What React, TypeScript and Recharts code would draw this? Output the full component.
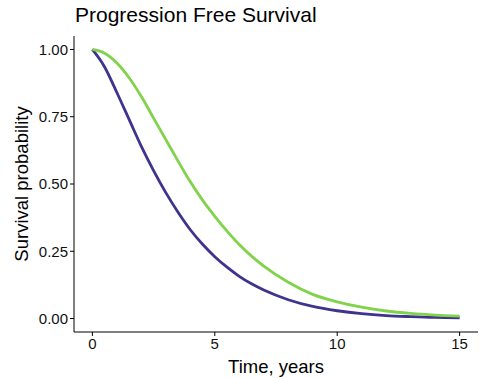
import React from 'react';
import { LineChart, Line, XAxis, YAxis } from 'recharts';

const times = [0, 0.5, 1, 1.5, 2, 2.5, 3, 3.5, 4, 4.5, 5, 5.5, 6, 6.5, 7, 8, 9, 10, 11, 12, 13, 14, 15];
const purpleSurv = [1.0, 0.935, 0.84, 0.74, 0.64, 0.55, 0.468, 0.395, 0.33, 0.276, 0.23, 0.191, 0.157, 0.129, 0.106, 0.07, 0.045, 0.029, 0.018, 0.011, 0.007, 0.004, 0.003];
const greenSurv = [1.0, 0.986, 0.95, 0.895, 0.825, 0.745, 0.665, 0.585, 0.508, 0.44, 0.38, 0.325, 0.275, 0.232, 0.195, 0.135, 0.09, 0.062, 0.042, 0.028, 0.019, 0.013, 0.009];
const xTicks = [0, 5, 10, 15];
const yTicks = [0, 0.25, 0.5, 0.75, 1];

const data = times.map((t, i) => ({ t, purple: purpleSurv[i], green: greenSurv[i] }));

const FONT = '"Liberation Sans", Arial, Helvetica, sans-serif';

const renderYLabel = (props: any) => {
  const vb = props.viewBox || { x: 0, y: 36, width: 74, height: 296 };
  const cx = vb.x + 21;
  const cy = vb.y + vb.height / 2;
  return (
    <text x={cx} y={cy} transform={`rotate(-90 ${cx} ${cy})`} textAnchor="middle" dominantBaseline="central" fontSize={18.5} fill="#000" fontFamily={FONT}>
      Survival probability
    </text>
  );
};

const renderXLabel = (props: any) => {
  const vb = props.viewBox || { x: 74, y: 332, width: 404, height: 46 };
  const cx = vb.x + vb.width / 2;
  return (
    <text x={cx} y={366} textAnchor="middle" dominantBaseline="central" fontSize={18.5} fill="#000" fontFamily={FONT}>
      Time, years
    </text>
  );
};

export default function App() {
  return (
    <div style={{ position: 'absolute', left: 0, top: 0, width: 483, height: 378, background: '#fff' }}>
      <div style={{ position: 'absolute', left: 75, top: 3, fontSize: 21, fontFamily: FONT, color: '#000', lineHeight: 'normal', whiteSpace: 'nowrap' }}>
        Progression Free Survival
      </div>
      <LineChart width={483} height={378} data={data} margin={{ top: 36, right: 5, bottom: 0, left: 0 }}>
        <XAxis
          dataKey="t"
          type="number"
          domain={[-0.75, 15.75]}
          ticks={xTicks}
          allowDataOverflow
          height={46}
          tickSize={4}
          tickMargin={2}
          stroke="#000"
          axisLine={{ stroke: '#000', strokeWidth: 1 }}
          tickLine={{ stroke: '#000' }}
          tick={{ fill: '#111', fontSize: 15, fontFamily: FONT }}
          label={{ content: renderXLabel } as any}
        />
        <YAxis
          type="number"
          domain={[-0.05, 1.05]}
          ticks={yTicks}
          allowDataOverflow
          width={74}
          tickSize={4}
          tickMargin={2}
          stroke="#000"
          axisLine={{ stroke: '#000', strokeWidth: 1 }}
          tickLine={{ stroke: '#000' }}
          tick={{ fill: '#111', fontSize: 15, fontFamily: FONT }}
          tickFormatter={(v: number) => v.toFixed(2)}
          label={{ content: renderYLabel } as any}
        />
        <Line type="monotone" dataKey="purple" stroke="#3E348D" strokeWidth={2.8} dot={false} isAnimationActive={false} />
        <Line type="monotone" dataKey="green" stroke="#80D34A" strokeWidth={2.8} dot={false} isAnimationActive={false} />
      </LineChart>
    </div>
  );
}
